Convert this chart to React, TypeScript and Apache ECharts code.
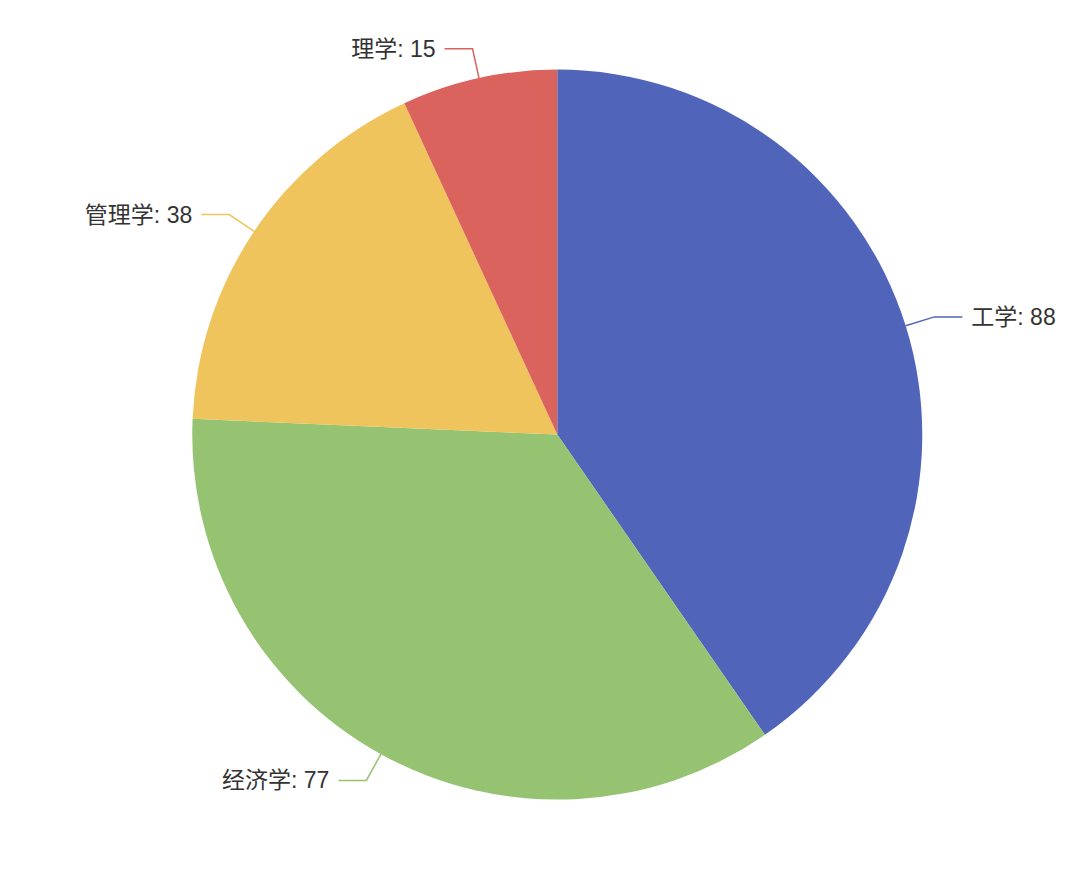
import React, { useEffect, useRef } from "react";
import * as echarts from "echarts";

const categories = ["工学", "经济学", "管理学", "理学"];
const values = [88, 77, 38, 15];
const colors = ["#5065b9", "#95c372", "#efc45d", "#da635d"];

export default function App() {
  const ref = useRef<HTMLDivElement>(null);
  useEffect(() => {
    document.body.style.margin = "0";
    const chart = echarts.init(ref.current!, null, { renderer: "svg" });
    chart.setOption({
      animation: false,
      color: colors,
      series: [
        {
          type: "pie",
          center: ["51.6%", "49.5%"],
          radius: 365,
          startAngle: 90,
          data: categories.map((c, i) => ({ name: c, value: values[i] })),
          label: {
            formatter: "{b}: {c}",
            fontSize: 23,
            color: "#333",
            distanceToLabelLine: 9,
            fontFamily: "'Liberation Sans', 'Noto Sans CJK SC', sans-serif",
          },
          labelLine: { length: 30, length2: 28, lineStyle: { width: 1.5 } },
        },
      ],
    });
    return () => chart.dispose();
  }, []);
  return <div ref={ref} style={{ width: 1080, height: 878 }} />;
}
